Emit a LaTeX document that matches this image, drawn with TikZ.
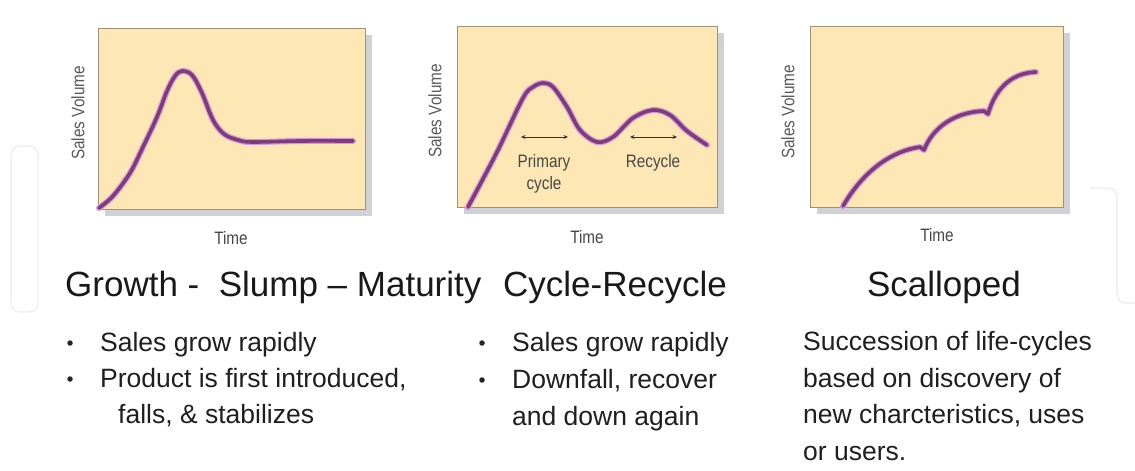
\documentclass[tikz,border=0pt]{standalone}
\usepackage{fontspec}
\setmainfont{Liberation Sans}
\newfontfamily\condfont[FakeStretch=0.85]{Liberation Sans}
\usepackage{tikz}
\usetikzlibrary{calc}
\usetikzlibrary{arrows.meta}
\usetikzlibrary{shadows}

\definecolor{chartFill}{RGB}{253,231,180}
\definecolor{chartEdge}{RGB}{160,145,120}
\definecolor{chartShadow}{RGB}{208,208,214}
\definecolor{curvePurple}{RGB}{125,60,125}
\definecolor{curveGlow}{RGB}{212,150,212}
\definecolor{axisGray}{RGB}{90,90,90}
\definecolor{wmGray}{RGB}{238,238,238}

\tikzset{
	chartbox/.style={draw=chartEdge, fill=chartFill, line width=0.8pt, inner sep=0pt, anchor=north west,
		drop shadow={shadow xshift=7pt, shadow yshift=-7pt, fill=chartShadow, opacity=1}},
	curveline/.style={draw=curvePurple, line width=3.6pt, line cap=round, line join=round,
		preaction={draw=curveGlow, line width=6pt, line cap=round, line join=round}},
	ylabel/.style={font=\condfont\fontsize{18}{18}\selectfont, text=axisGray, rotate=90},
	tlabel/.style={font=\condfont\fontsize{18}{18}\selectfont, text=black!72},
	innerlabel/.style={font=\condfont\fontsize{18}{22}\selectfont, text=black!72, align=center},
	titletext/.style={font=\fontsize{35}{35}\selectfont, text=black!90, inner sep=0pt},
	bodytext/.style={font=\fontsize{26.5}{26.5}\selectfont, text=black!88, inner sep=0pt, anchor=base west},
	bulletdot/.style={circle, fill=black!85, inner sep=0pt, minimum size=5.5pt},
	watermark/.style={draw=wmGray, line width=1.4pt, rounded corners=9pt}
}

\begin{document}
\begin{tikzpicture}[x=1pt, y=-1pt]
	\useasboundingbox[fill=white] (0,0) rectangle (1135,471);
	
	% faint logo outline behind
	\draw[watermark] (11,146) rectangle (38,312);
	\draw[watermark] (1090,188) -- (1117,188) -- (1117,303) -- (1140,303);
	
	\pgfmathsetmacro\boxH{181}
	
	% the three charts
	\node (box1)[chartbox, minimum width=267pt, minimum height=\boxH pt] at (98,28) {};
	\node (box2)[chartbox, minimum width=260pt, minimum height=\boxH pt] at (457,26) {};
	\node (box3)[chartbox, minimum width=253pt, minimum height=\boxH pt] at (810,26) {};
	
	\node (yLbl1)[ylabel] at (78,113) {Sales Volume};
	\node (yLbl2)[ylabel] at (435,111) {Sales Volume};
	\node (yLbl3)[ylabel] at (788,112) {Sales Volume};
	
	\node (tLbl1)[tlabel] at (231,238) {Time};
	\node (tLbl2)[tlabel] at (587,237) {Time};
	\node (tLbl3)[tlabel] at (937,235) {Time};
	
	% growth - slump - maturity
	\draw[curveline] plot[smooth, tension=0.55] coordinates {(99,208) (113,196) (130,173) (143,147) (157,117) (167,91) (175,76) (182,71) (192,75) (202,93) (213,120) (224,134) (238,140) (252,142) (300,141) (353,141)};
	
	% cycle - recycle
	\draw[curveline] plot[smooth, tension=0.55] coordinates {(468,207) (497,152) (523,98) (533,87) (543,83) (553,87) (567,107) (580,130) (597,142) (613,137) (633,118) (653,110) (670,115) (687,131) (707,145)};
	
	\begin{scope}[>={Stealth[length=4.5pt, width=4pt]}]
	\coordinate (primL) at (521,137);
	\coordinate (primR) at (568,137);
	\coordinate (recyL) at (630,137);
	\coordinate (recyR) at (677,137);
	\draw[<->, line width=0.8pt, black!80] (primL) -- (primR);
	\draw[<->, line width=0.8pt, black!80] (recyL) -- (recyR);
	\end{scope}
	
	\node (primLbl)[innerlabel] at (544,174) {Primary\\cycle};
	\node (recyLbl)[innerlabel] at (653,163) {Recycle};
	
	% scalloped
	\draw[curveline] (843,206) .. controls (864,170) and (892,151) .. (920,147) -- (924,150)
	.. controls (933,127) and (955,112) .. (984,111) -- (988,114)
	.. controls (995,90) and (1010,73) .. (1036,72);
	
	% headings
	\node (head1)[titletext, anchor=base west] at (65,296) {Growth -\ \ Slump – Maturity};
	\node (head2)[titletext, anchor=base west] at (503,296) {Cycle-Recycle};
	\node (head3)[titletext, anchor=base] at (944,296) {Scalloped};
	
	% text under the charts
	\node (dotA1)[bulletdot] at (70,343) {};
	\node (dotA2)[bulletdot] at (70,379) {};
	\node (txtA1)[bodytext] at (100,351) {Sales grow rapidly};
	\node (txtA2)[bodytext] at (100,387) {Product is first introduced,};
	\node (txtA3)[bodytext] at (118,423) {falls, \& stabilizes};
	
	\node (dotB1)[bulletdot] at (482,343) {};
	\node (dotB2)[bulletdot] at (482,380) {};
	\node (txtB1)[bodytext] at (512,351) {Sales grow rapidly};
	\node (txtB2)[bodytext] at (512,388) {Downfall, recover};
	\node (txtB3)[bodytext] at (512,425) {and down again};
	
	\node (txtC1)[bodytext] at (803,350) {Succession of life-cycles};
	\node (txtC2)[bodytext] at (803,387) {based on discovery of};
	\node (txtC3)[bodytext] at (803,423) {new charcteristics, uses};
	\node (txtC4)[bodytext] at (803,460) {or users.};
\end{tikzpicture}
\end{document}
